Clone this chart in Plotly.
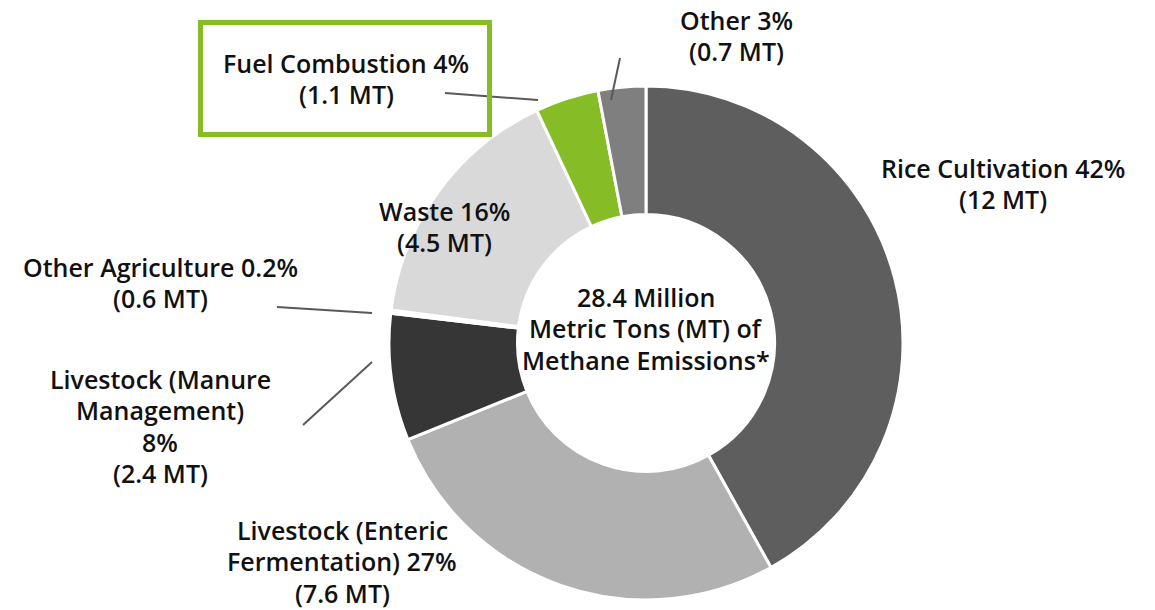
import plotly.graph_objects as go

W, H = 1155, 610

categories = ["Rice Cultivation", "Livestock (Enteric Fermentation)", "Livestock (Manure Management)",
              "Other Agriculture", "Waste", "Fuel Combustion", "Other"]
percent = [42, 27, 8, 0.2, 16, 4, 3]
mt = [12, 7.6, 2.4, 0.6, 4.5, 1.1, 0.7]
label_lines = [
    ["Rice Cultivation 42%", "(12 MT)"],
    ["Livestock (Enteric", "Fermentation) 27%", "(7.6 MT)"],
    ["Livestock (Manure", "Management)", "8%", "(2.4 MT)"],
    ["Other Agriculture 0.2%", "(0.6 MT)"],
    ["Waste 16%", "(4.5 MT)"],
    ["Fuel Combustion 4%", "(1.1 MT)"],
    ["Other 3%", "(0.7 MT)"],
]
colors = ["#5e5e5e", "#b1b1b1", "#363636", "#ffffff", "#d9d9d9", "#86bc25", "#7f7f7f"]
center_lines = ["28.4 Million", "Metric Tons (MT) of", "Methane Emissions*"]

FONT = "Open Sans"
LINE_GAP = 31.3

def px(x):
    return x / W

def py(y):
    return 1 - y / H

cx, cy, r = 646, 343, 257

fig = go.Figure(go.Pie(
    labels=categories,
    values=percent,
    sort=False,
    direction="clockwise",
    rotation=0,
    hole=0.5,
    marker=dict(colors=colors, line=dict(color="white", width=3)),
    textinfo="none",
    hoverinfo="label+percent",
    showlegend=False,
    domain=dict(x=[px(cx - r), px(cx + r)], y=[py(cy + r), py(cy - r)]),
))

# label anchor: (center x, first line center y) in pixels
label_pos = [(1003, 169), (342, 531), (160, 380), (160, 268), (444, 212), (346, 64), (736, 21)]
annotations = []

def add_lines(lines, x, y0, size):
    for i, line in enumerate(lines):
        annotations.append(dict(
            text=line, x=px(x), y=py(y0 + i * LINE_GAP - 1), xref="paper", yref="paper",
            xanchor="center", yanchor="middle", showarrow=False, align="center",
            font=dict(family=FONT, size=size, color="#111111", weight=600),
        ))

for lines, (x, y) in zip(label_lines, label_pos):
    add_lines(lines, x, y, 25)
add_lines(center_lines, cx, 298, 25)

leaders = [((445, 93), (538, 100)), ((620, 58), (611, 100)),
           ((277, 307), (372, 313)), ((303, 425), (372, 362))]
shapes = []
for (x0, y0), (x1, y1) in leaders:
    shapes.append(dict(type="line", xref="paper", yref="paper",
                       x0=px(x0), y0=py(y0), x1=px(x1), y1=py(y1),
                       line=dict(color="#595959", width=2)))
shapes.append(dict(type="rect", xref="paper", yref="paper",
                   x0=px(200.5), y0=py(22.5), x1=px(489.5), y1=py(134.5),
                   line=dict(color="#86bc25", width=5)))

fig.update_layout(
    width=W, height=H,
    margin=dict(l=0, r=0, t=0, b=0),
    paper_bgcolor="white", plot_bgcolor="white",
    annotations=annotations, shapes=shapes,
)

fig.write_html("out.html")
